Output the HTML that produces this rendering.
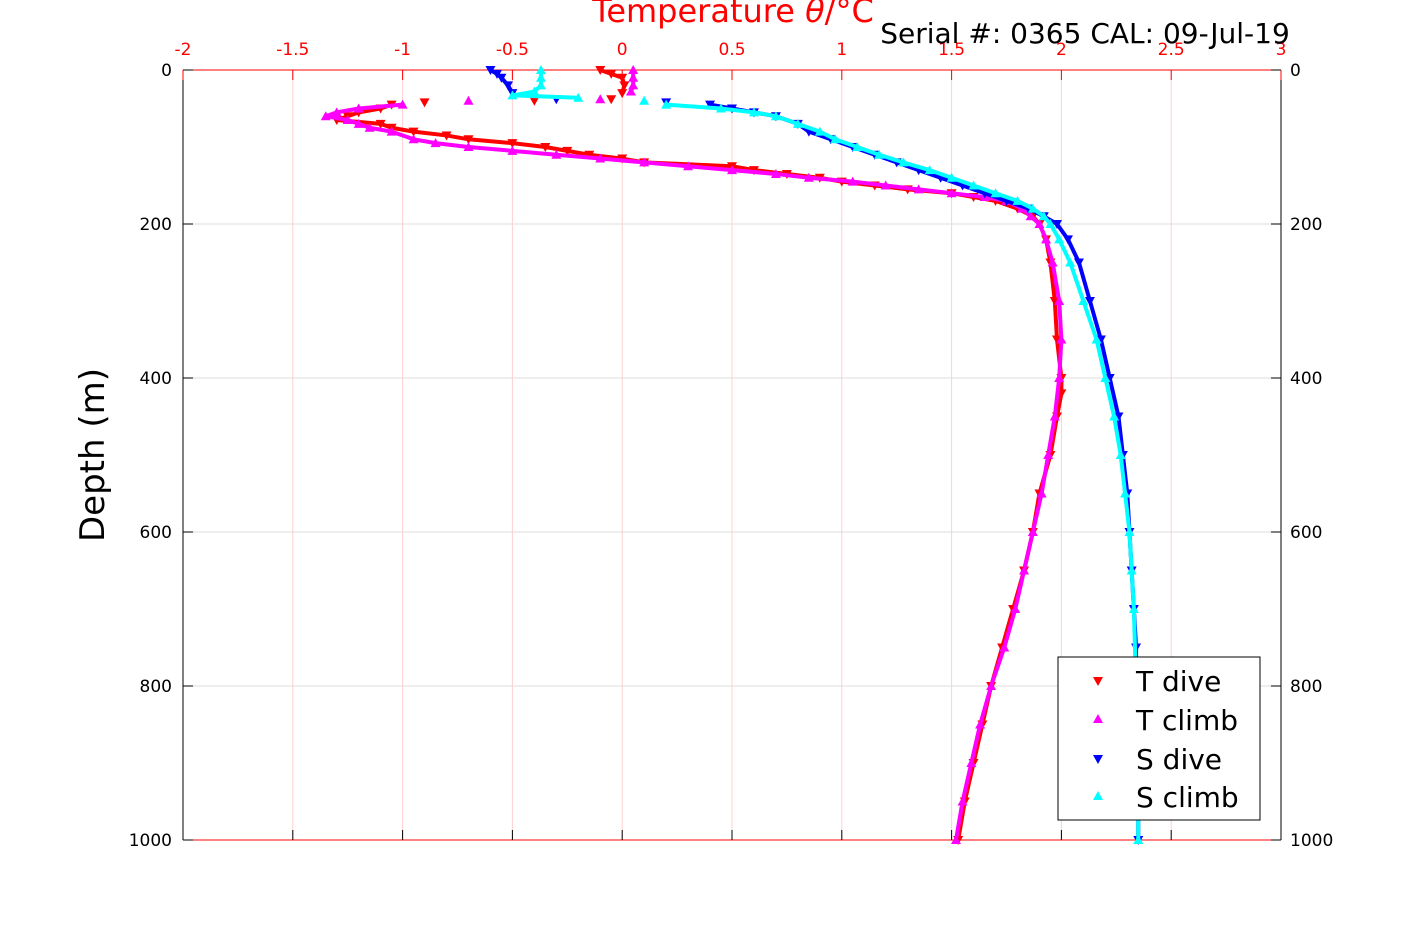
<!DOCTYPE html>
<html><head><meta charset="utf-8"><style>
body{margin:0;background:#fff}
svg{display:block;font-family:"DejaVu Sans","Liberation Sans",sans-serif}
</style></head><body>
<svg id="c" width="1417" height="945"></svg>
<script>
const xTicks=[-2,-1.5,-1,-0.5,0,0.5,1,1.5,2,2.5,3];
const yTicks=[0,200,400,600,800,1000];
const tDiveD=[0,5,10,20,30,38,40,42,45,50,55,60,65,70,75,80,85,90,95,100,105,110,115,120,125,130,135,140,145,150,155,160,165,170,180,190,200,220,250,300,350,400,420,450,500,550,600,650,700,750,800,850,900,950,1000];
const tDiveV=[-0.1,-0.05,0,0.01,0,-0.05,-0.4,-0.9,-1.05,-1.1,-1.2,-1.25,-1.3,-1.1,-1.05,-0.95,-0.8,-0.7,-0.5,-0.35,-0.25,-0.15,0,0.1,0.5,0.6,0.75,0.9,1.0,1.15,1.3,1.5,1.6,1.7,1.8,1.87,1.9,1.93,1.95,1.97,1.98,2.0,2.0,1.98,1.95,1.9,1.87,1.83,1.78,1.73,1.68,1.64,1.6,1.56,1.53];
const tClimbD=[0,10,20,28,38,40,45,50,55,60,65,70,75,80,90,95,100,105,110,115,120,125,130,135,140,145,150,155,160,165,170,180,190,200,220,250,300,350,400,450,500,550,600,650,700,750,800,850,900,950,1000];
const tClimbV=[0.05,0.05,0.05,0.04,-0.1,-0.7,-1.0,-1.2,-1.3,-1.35,-1.25,-1.2,-1.15,-1.05,-0.95,-0.85,-0.7,-0.5,-0.3,-0.1,0.1,0.3,0.5,0.7,0.85,1.05,1.2,1.35,1.5,1.65,1.75,1.82,1.86,1.9,1.93,1.96,1.99,2.0,1.99,1.97,1.94,1.91,1.87,1.83,1.79,1.74,1.68,1.63,1.59,1.55,1.52];
const sDiveD=[0,5,10,20,30,38,42,45,50,55,60,70,80,90,100,110,120,130,140,150,160,170,180,190,200,220,250,300,350,400,450,500,550,600,650,700,750,800,850,900,950,1000];
const sDiveV=[-0.6,-0.57,-0.55,-0.52,-0.5,-0.3,0.2,0.4,0.5,0.6,0.7,0.8,0.85,0.95,1.05,1.15,1.25,1.35,1.45,1.55,1.65,1.75,1.85,1.92,1.98,2.03,2.08,2.13,2.18,2.22,2.26,2.28,2.3,2.31,2.32,2.33,2.34,2.34,2.35,2.35,2.35,2.35];
const sClimbD=[0,10,20,28,33,36,40,45,50,55,60,70,80,90,100,110,120,130,140,150,160,170,180,190,200,220,250,300,350,400,450,500,550,600,650,700,800,900,1000];
const sClimbV=[-0.37,-0.37,-0.37,-0.4,-0.5,-0.2,0.1,0.2,0.45,0.6,0.7,0.8,0.9,0.97,1.07,1.17,1.28,1.4,1.5,1.6,1.7,1.8,1.87,1.92,1.95,1.99,2.04,2.1,2.16,2.2,2.24,2.27,2.29,2.31,2.32,2.33,2.34,2.35,2.35];

const svg=document.getElementById('c');const NS='http://www.w3.org/2000/svg';
const L=183,R=1281,T=70,B=840;
const X=v=>L+(v+2)/5*(R-L);
const Y=d=>T+d/1000*(B-T);
function mk(tag,a,parent){const e=document.createElementNS(NS,tag);for(const k in a)e.setAttribute(k,a[k]);(parent||svg).appendChild(e);return e;}
xTicks.forEach(t=>{const g=mk('line',{x1:X(t),x2:X(t),y1:T,y2:B,stroke:'#ffd0d0','stroke-width':1});

});
yTicks.forEach(t=>{const g=mk('line',{x1:L,x2:R,y1:Y(t),y2:Y(t),stroke:'#dcdcdc','stroke-width':1});

});
mk('line',{x1:L,x2:L,y1:T,y2:B,stroke:'#000'});mk('line',{x1:R,x2:R,y1:T,y2:B,stroke:'#000'});
mk('line',{x1:L,x2:R,y1:T,y2:T,stroke:'#f00'});mk('line',{x1:L,x2:R,y1:B,y2:B,stroke:'#f00'});
xTicks.forEach(t=>{mk('line',{x1:X(t),x2:X(t),y1:T,y2:T+10,stroke:'#f00'});mk('line',{x1:X(t),x2:X(t),y1:B,y2:B-10,stroke:'#000'});
const tx=mk('text',{x:X(t),y:55,fill:'#f00','font-size':17,'text-anchor':'middle'});tx.textContent=t;

});
yTicks.forEach(t=>{mk('line',{x1:L,x2:L+10,y1:Y(t),y2:Y(t),stroke:'#000'});mk('line',{x1:R,x2:R-10,y1:Y(t),y2:Y(t),stroke:'#000'});
const a=mk('text',{x:172,y:Y(t)+6,'font-size':17,'text-anchor':'end'});a.textContent=t;


const b=mk('text',{x:1290,y:Y(t)+6,'font-size':17});b.textContent=t;

});
function series(D,V,color,up,name){
 const g=mk('g',{});
 
 
 const top=D.filter(d=>d<=36);
 mk('polyline',{points:D.map((d,i)=>d<=36?X(V[i])+','+Y(d):null).filter(Boolean).join(' '),fill:'none',stroke:color,'stroke-width':4,'stroke-linejoin':'round'},g);
 mk('polyline',{points:D.map((d,i)=>d>=45?X(V[i])+','+Y(d):null).filter(Boolean).join(' '),fill:'none',stroke:color,'stroke-width':d3w(),'stroke-linejoin':'round'},g);
 D.forEach((d,i)=>{const x=X(V[i]),y=Y(d);const p=up?`${x-5},${y+4} ${x+5},${y+4} ${x},${y-5}`:`${x-5},${y-4} ${x+5},${y-4} ${x},${y+5}`;
  const m=mk('polygon',{points:p,fill:color},g);
  
  });
}
function d3w(){return 4;}
series(tDiveD,tDiveV,'#ff0000',false,'t-dive-series');
series(tClimbD,tClimbV,'#ff00ff',true,'t-climb-series');
series(sDiveD,sDiveV,'#0000ff',false,'s-dive-series');
series(sClimbD,sClimbV,'#00ffff',true,'s-climb-series');
</script>
<svg width="1417" height="945" style="position:absolute;left:0;top:0;font-family:'DejaVu Sans','Liberation Sans',sans-serif">
<text x="733" y="22" fill="#f00" font-size="32" text-anchor="middle">Temperature <tspan font-style="italic">θ</tspan>/°C</text>
<text x="1085" y="43" font-size="28" text-anchor="middle">Serial #: 0365  CAL: 09-Jul-19</text>
<text transform="translate(104,455) rotate(-90)" font-size="34" text-anchor="middle">Depth (m)</text>
<g>
<rect x="1058" y="657" width="202" height="163" fill="#fff" stroke="#000"/>
<polygon points="1093,677 1103,677 1098,686" fill="#f00"/><text x="1136" y="691" font-size="28">T dive</text>
<polygon points="1093,723 1103,723 1098,714" fill="#f0f"/><text x="1136" y="730" font-size="28">T climb</text>
<polygon points="1093,755 1103,755 1098,764" fill="#00f"/><text x="1136" y="769" font-size="28">S dive</text>
<polygon points="1093,800 1103,800 1098,791" fill="#0ff"/><text x="1136" y="807" font-size="28">S climb</text>
</g>
</svg>
</body></html>
